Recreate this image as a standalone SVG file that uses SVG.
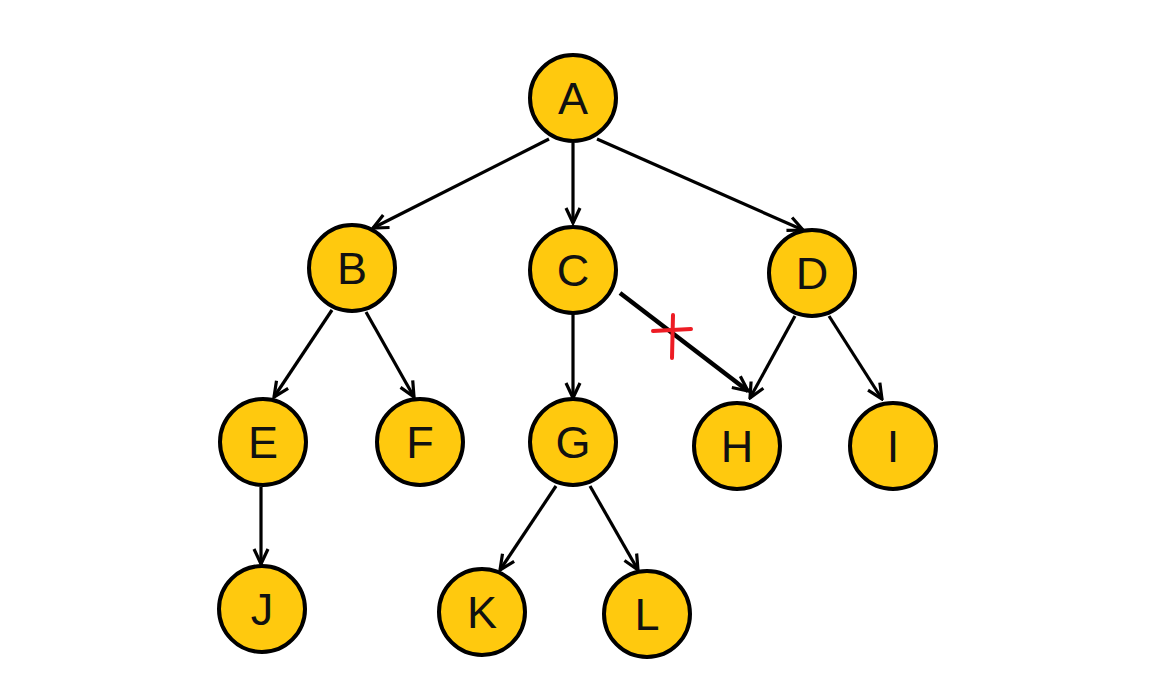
<svg xmlns="http://www.w3.org/2000/svg" width="1163" height="690" viewBox="0 0 1163 690">
<style>
.node circle{fill:#ffc90e;stroke:#000;stroke-width:4}
.node text{font-family:"Liberation Sans",Arial,sans-serif;font-size:45px;fill:#111;text-anchor:middle;dominant-baseline:central}
.edge{stroke:#000;stroke-width:3.2;fill:none;marker-end:url(#arr)}
.thick{stroke-width:4.5}
.cross{stroke:#ed1c24;stroke-width:4;stroke-linecap:round}
</style>
<defs>
<marker id="arr" markerUnits="userSpaceOnUse" viewBox="0 0 20 20" refX="18" refY="10" markerWidth="20" markerHeight="20" orient="auto">
<path d="M3,3 L18,10 L3,17" fill="none" stroke="#000" stroke-width="3.2"/>
</marker>
</defs>
<rect width="1163" height="690" fill="#fff"/>
<g id="connectors">
<line class="edge" x1="549" y1="139" x2="373" y2="228"/>
<line class="edge" x1="573" y1="143" x2="573" y2="223"/>
<line class="edge" x1="597" y1="139" x2="803" y2="230"/>
<line class="edge" x1="332" y1="310" x2="274" y2="397"/>
<line class="edge" x1="366" y1="312" x2="414" y2="397"/>
<line class="edge" x1="573" y1="314" x2="573" y2="398"/>
<line class="edge thick" x1="620" y1="293" x2="748" y2="391"/>
<line class="edge" x1="795" y1="316" x2="750" y2="398"/>
<line class="edge" x1="829" y1="316" x2="882" y2="399"/>
<line class="edge" x1="261" y1="487" x2="261" y2="564"/>
<line class="edge" x1="556" y1="486" x2="500" y2="570"/>
<line class="edge" x1="590" y1="486" x2="638" y2="570"/>
</g>
<g id="mark">
<line class="cross" x1="653" y1="331" x2="691" y2="329"/>
<line class="cross" x1="673" y1="315" x2="672" y2="358"/>
</g>
<g id="A" class="node"><circle cx="573" cy="98" r="43"/><text x="573" y="98">A</text></g>
<g id="B" class="node"><circle cx="352" cy="268" r="43"/><text x="352" y="268">B</text></g>
<g id="C" class="node"><circle cx="573" cy="270" r="43"/><text x="573" y="270">C</text></g>
<g id="D" class="node"><circle cx="812" cy="273" r="43"/><text x="812" y="273">D</text></g>
<g id="E" class="node"><circle cx="263" cy="442" r="43"/><text x="263" y="442">E</text></g>
<g id="F" class="node"><circle cx="420" cy="442" r="43"/><text x="420" y="442">F</text></g>
<g id="G" class="node"><circle cx="573" cy="442" r="43"/><text x="573" y="442">G</text></g>
<g id="H" class="node"><circle cx="737" cy="446" r="43"/><text x="737" y="446">H</text></g>
<g id="I" class="node"><circle cx="893" cy="446" r="43"/><text x="893" y="446">I</text></g>
<g id="J" class="node"><circle cx="262" cy="609" r="43"/><text x="262" y="609">J</text></g>
<g id="K" class="node"><circle cx="482" cy="612" r="43"/><text x="482" y="612">K</text></g>
<g id="L" class="node"><circle cx="647" cy="614" r="43"/><text x="647" y="614">L</text></g>
</svg>
